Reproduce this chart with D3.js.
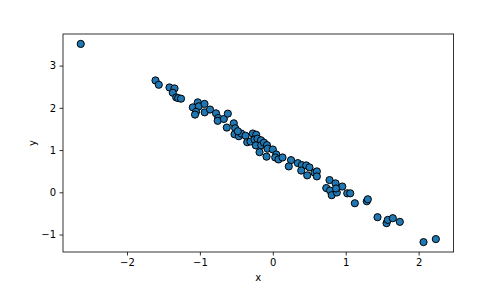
<!DOCTYPE html>
<html>
<head>
<meta charset="utf-8">
<script src="https://cdn.jsdelivr.net/npm/d3@7"></script>
<style>
	body { margin: 0; background: #fff; }
	svg text { font-family: "DejaVu Sans", sans-serif; }
</style>
</head>
<body>
<div id="chart"></div>
<script>
const W = 504, H = 283;
const margin = { top: 34, right: 50.4, bottom: 31, left: 63 };

// values
const xs = [
	-2.634, -1.609, -1.564, -1.417, -1.348, -1.372, -1.325, -1.298, -1.259, -1.097,
	-1.029, -1.015, -0.937, -1.053, -1.067, -0.934, -0.861, -0.779, -0.749, -0.756,
	-0.672, -0.617, -0.631, -0.535, -0.516, -0.525, -0.466, -0.433, -0.374, -0.351,
	-0.306, -0.274, -0.228, -0.251, -0.210, -0.162, -0.233, -0.159, -0.182, -0.121,
	-0.080, -0.073, -0.086, 0.000, 0.047, 0.033, 0.078, 0.133, 0.250, 0.219,
	0.343, 0.398, 0.458, 0.390, 0.472, 0.503, 0.572, 0.604, 0.604, 0.778,
	0.733, 0.785, 0.808, 0.860, 0.878, 0.953, 1.021, 1.062, 1.125, 1.289,
	1.303, 1.436, 1.560, 1.577, 1.646, 1.742, 2.067, 2.236, -0.480, 0.867
];
const ys = [
	3.514, 2.649, 2.547, 2.483, 2.460, 2.358, 2.248, 2.231, 2.217, 2.012,
	2.130, 2.035, 2.094, 1.906, 1.840, 1.894, 1.960, 1.870, 1.759, 1.693,
	1.736, 1.863, 1.533, 1.634, 1.517, 1.375, 1.328, 1.392, 1.340, 1.186,
	1.203, 1.392, 1.363, 1.250, 1.269, 1.233, 1.111, 1.116, 0.950, 1.175,
	1.116, 1.033, 0.844, 1.014, 0.896, 0.825, 0.778, 0.825, 0.762, 0.613,
	0.691, 0.644, 0.637, 0.514, 0.401, 0.590, 0.467, 0.495, 0.377, 0.290,
	0.101, 0.042, -0.068, 0.212, -0.005, 0.137, -0.024, -0.024, -0.259, -0.212,
	-0.165, -0.590, -0.731, -0.653, -0.613, -0.700, -1.179, -1.108, 1.446, 0.090
];
const xTicks = [-2, -1, 0, 1, 2];
const yTicks = [-1, 0, 1, 2, 3];

const points = xs.map((x, i) => ({ x, y: ys[i] }));

// matplotlib style 5% padding
function padded(ext) {
	const p = (ext[1] - ext[0]) * 0.05;
	return [ext[0] - p, ext[1] + p];
}

const x = d3.scaleLinear()
	.domain(padded(d3.extent(xs)))
	.range([margin.left, W - margin.right]);

const y = d3.scaleLinear()
	.domain(padded(d3.extent(ys)))
	.range([H - margin.bottom, margin.top]);

const fmt = d => String(d).replace("-", "\u2212");

const svg = d3.select("#chart").append("svg")
	.attr("width", W)
	.attr("height", H);

const xAxis = svg.append("g")
	.attr("transform", `translate(0,${H - margin.bottom})`)
	.call(d3.axisBottom(x).tickValues(xTicks).tickFormat(fmt).tickSize(3.5).tickPadding(3.5));

const yAxis = svg.append("g")
	.attr("transform", `translate(${margin.left},0)`)
	.call(d3.axisLeft(y).tickValues(yTicks).tickFormat(fmt).tickSize(3.5).tickPadding(3.5));

[xAxis, yAxis].forEach(g => {
	g.select(".domain").remove();
	g.selectAll(".tick line").attr("stroke", "#000").attr("stroke-width", 0.8);
	g.selectAll(".tick text").attr("fill", "#000").attr("font-size", "10px");
});

svg.append("g")
	.selectAll("circle")
	.data(points)
	.enter()
	.append("circle")
	.attr("cx", d => x(d.x))
	.attr("cy", d => y(d.y))
	.attr("r", 3.6)
	.attr("fill", "#1f77b4")
	.attr("stroke", "#000")
	.attr("stroke-width", 1);

// frame
svg.append("rect")
	.attr("x", margin.left)
	.attr("y", margin.top)
	.attr("width", W - margin.left - margin.right)
	.attr("height", H - margin.top - margin.bottom)
	.attr("fill", "none")
	.attr("stroke", "#000")
	.attr("stroke-width", 0.8);

svg.append("text")
	.attr("x", (margin.left + W - margin.right) / 2)
	.attr("y", 281)
	.attr("text-anchor", "middle")
	.attr("font-size", "10px")
	.text("x");

svg.append("text")
	.attr("transform", `translate(36,${(margin.top + H - margin.bottom) / 2}) rotate(-90)`)
	.attr("text-anchor", "middle")
	.attr("font-size", "10px")
	.text("y");
</script>
</body>
</html>
